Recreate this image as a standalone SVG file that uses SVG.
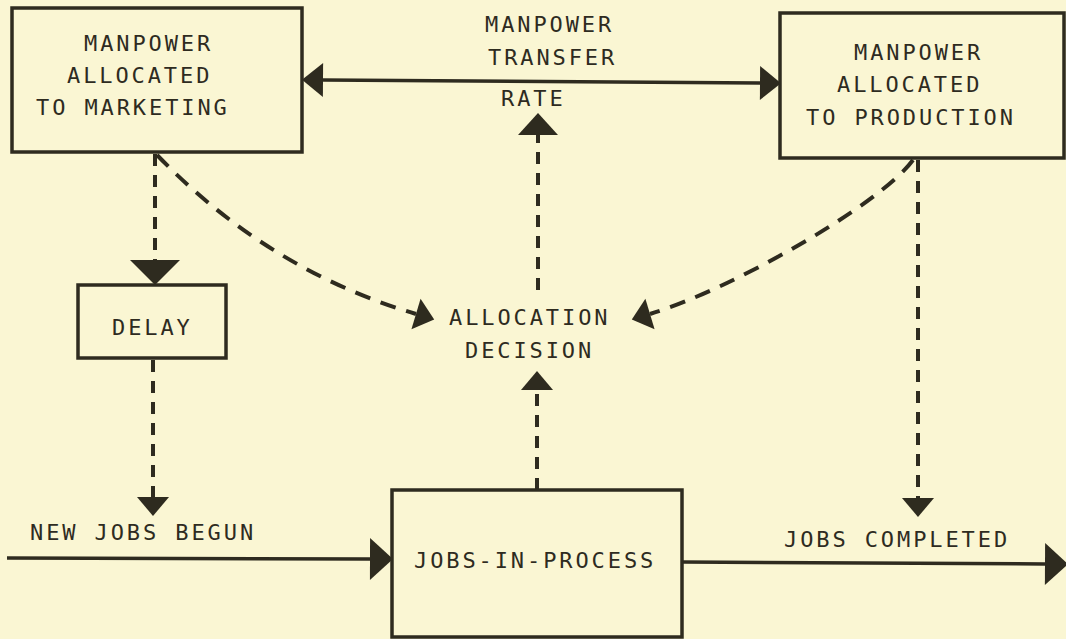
<svg xmlns="http://www.w3.org/2000/svg" width="1066" height="639" viewBox="0 0 1066 639">
<style>
  .bg{fill:#faf6d3}
  .box{fill:none;stroke:#2e2b1f;stroke-width:3.5}
  .t{font-family:"DejaVu Sans Mono","Liberation Mono",monospace;font-size:22px;letter-spacing:2.9px;fill:#2e2b1f}
  .flow{fill:none;stroke:#2e2b1f;stroke-width:3.5}
  .info{fill:none;stroke:#2e2b1f;stroke-width:4;stroke-dasharray:12 9}
  .curve{fill:none;stroke:#2e2b1f;stroke-width:4;stroke-dasharray:16 11}
  .ah{fill:#2e2b1f;stroke:none}
</style>
<defs>
  <marker id="m-flow" markerUnits="userSpaceOnUse" markerWidth="24" markerHeight="42" refX="0" refY="21" orient="auto-start-reverse" overflow="visible"><path class="ah" d="M0,0 L23,21 L0,42 Z"/></marker>
  <marker id="m-xfer" markerUnits="userSpaceOnUse" markerWidth="22" markerHeight="34" refX="0" refY="17" orient="auto-start-reverse" overflow="visible"><path class="ah" d="M0,0 L21,17 L0,34 Z"/></marker>
  <marker id="m-wide" markerUnits="userSpaceOnUse" markerWidth="26" markerHeight="50" refX="0" refY="25" orient="auto" overflow="visible"><path class="ah" d="M0,0 L25,25 L0,50 Z"/></marker>
  <marker id="m-info" markerUnits="userSpaceOnUse" markerWidth="20" markerHeight="32" refX="0" refY="16" orient="auto" overflow="visible"><path class="ah" d="M0,0 L19,16 L0,32 Z"/></marker>
  <marker id="m-rate" markerUnits="userSpaceOnUse" markerWidth="22" markerHeight="40" refX="0" refY="20" orient="auto" overflow="visible"><path class="ah" d="M0,0 L22,20 L0,40 Z"/></marker>
</defs>
<rect class="bg" x="0" y="0" width="1066" height="639"/>

<g id="connectors">
  <path id="transfer" class="flow" d="M323,80 L760,83" marker-start="url(#m-xfer)" marker-end="url(#m-xfer)"/>
  <path id="new-jobs" class="flow" d="M7,558 L370,559" marker-end="url(#m-flow)"/>
  <path id="jobs-completed" class="flow" d="M682,562 L1045,564" marker-end="url(#m-flow)"/>
  <path id="mkt-delay" class="info" d="M155,154 L155,260" marker-end="url(#m-wide)"/>
  <path id="delay-new" class="info" d="M153,360 L153,497" marker-end="url(#m-info)"/>
  <path id="jip-decision" class="info" d="M537,490 L537,390" marker-end="url(#m-info)"/>
  <path id="decision-rate" class="info" d="M538,290 L538,135" marker-end="url(#m-rate)"/>
  <path id="prod-completed" class="info" d="M918,160 L918,498" marker-end="url(#m-info)"/>
  <path id="mkt-decision" class="curve" d="M157,155 Q268,270 416,314" marker-end="url(#m-info)"/>
  <path id="prod-decision" class="curve" d="M913,160 C880,205 730,290 650,314" marker-end="url(#m-info)"/>
</g>

<g id="marketing">
  <rect class="box" x="12" y="8" width="290" height="144"/>
  <text class="t" x="84" y="51">MANPOWER</text>
  <text class="t" x="67" y="83">ALLOCATED</text>
  <text class="t" x="36" y="115">TO MARKETING</text>
</g>

<g id="transfer-rate">
  <text class="t" x="485" y="32">MANPOWER</text>
  <text class="t" x="488" y="65">TRANSFER</text>
  <text class="t" x="501" y="106">RATE</text>
</g>

<g id="production">
  <rect class="box" x="780" y="13" width="284" height="145"/>
  <text class="t" x="854" y="60">MANPOWER</text>
  <text class="t" x="837" y="92">ALLOCATED</text>
  <text class="t" x="806" y="125">TO PRODUCTION</text>
</g>

<g id="delay">
  <rect class="box" x="78" y="285" width="148" height="73"/>
  <text class="t" x="112" y="335">DELAY</text>
</g>

<g id="allocation-decision">
  <text class="t" x="449" y="325">ALLOCATION</text>
  <text class="t" x="465" y="358">DECISION</text>
</g>

<g id="jobs-in-process">
  <rect class="box" x="392" y="490" width="290" height="147"/>
  <text class="t" x="414" y="568">JOBS-IN-PROCESS</text>
</g>

<g id="labels">
  <text class="t" x="30" y="540">NEW JOBS BEGUN</text>
  <text class="t" x="784" y="547">JOBS COMPLETED</text>
</g>
</svg>
